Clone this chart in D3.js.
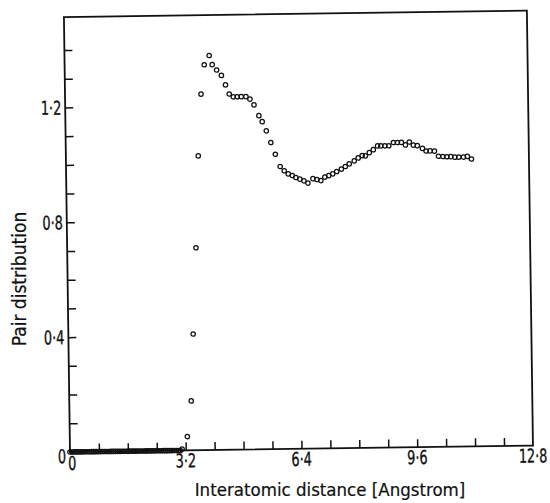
<!DOCTYPE html>
<html>
<head>
  <meta charset="utf-8">
  <script src="https://d3js.org/d3.v7.min.js"></script>
  <style>
    body { margin: 0; background: #fff; }
    text { font-family: "DejaVu Sans Condensed", "DejaVu Sans", sans-serif; fill: #111; }
  </style>
</head>
<body>
<script>
// interatomic distance (Angstrom) and pair distribution
var distance = [0, 0.06, 0.12, 0.18, 0.24, 0.30, 0.36, 0.42, 0.48, 0.54, 0.60, 0.66, 0.72, 0.78,
  0.84, 0.90, 0.96, 1.02, 1.08, 1.14, 1.20, 1.26, 1.32, 1.38, 1.44, 1.50, 1.56, 1.62,
  1.68, 1.74, 1.80, 1.86, 1.92, 1.98, 2.04, 2.10, 2.16, 2.22, 2.28, 2.34, 2.40, 2.46,
  2.52, 2.58, 2.64, 2.70, 2.76, 2.82, 2.88, 2.94, 3.00, 3.05,
  3.10, 3.25, 3.37, 3.45, 3.56, 3.66, 3.76, 3.86, 4.00, 4.08, 4.20, 4.33, 4.44, 4.54,
  4.65, 4.76, 4.87, 5.00, 5.11, 5.22, 5.35, 5.44, 5.55, 5.67, 5.79, 5.92, 6.03, 6.14,
  6.25, 6.35, 6.46, 6.57, 6.68, 6.82, 6.93, 7.04, 7.15, 7.26, 7.37, 7.48, 7.61, 7.72,
  7.83, 7.97, 8.08, 8.19, 8.28, 8.39, 8.50, 8.62, 8.71, 8.82, 8.93, 9.06, 9.17, 9.28,
  9.39, 9.50, 9.61, 9.72, 9.86, 9.96, 10.07, 10.19, 10.30, 10.42, 10.53, 10.64, 10.75,
  10.86, 10.99, 11.10, 11.21];
var pairDist = [0, 0, 0, 0, 0, 0, 0, 0, 0, 0, 0, 0, 0, 0,
  0, 0, 0, 0, 0, 0, 0, 0, 0, 0, 0, 0, 0, 0,
  0, 0, 0, 0, 0, 0, 0, 0, 0, 0, 0, 0, 0, 0,
  0, 0, 0, 0, 0, 0, 0, 0, 0, 0,
  0.005, 0.048, 0.172, 0.405, 0.705, 1.025, 1.240, 1.342, 1.374, 1.342, 1.323, 1.304, 1.271, 1.239,
  1.229, 1.229, 1.229, 1.229, 1.220, 1.200, 1.162, 1.141, 1.109, 1.068, 1.027, 0.984, 0.969, 0.958,
  0.952, 0.945, 0.939, 0.933, 0.925, 0.940, 0.937, 0.933, 0.945, 0.950, 0.956, 0.964, 0.972, 0.981,
  0.990, 1.000, 1.010, 1.018, 1.017, 1.028, 1.038, 1.051, 1.051, 1.051, 1.051, 1.062, 1.062, 1.062,
  1.053, 1.063, 1.052, 1.050, 1.040, 1.031, 1.031, 1.030, 1.012, 1.011, 1.010, 1.010, 1.008,
  1.008, 1.008, 1.010, 1.001];

var xMinorTicks = [0.8, 1.6, 2.4, 3.2, 4.0, 4.8, 5.6, 6.4, 7.2, 8.0, 8.8, 9.6, 10.4, 11.2, 12.0];
var xLabelTicks = [0, 3.2, 6.4, 9.6, 12.8];
var xLabels = ["0", "3·2", "6·4", "9·6", "12·8"];
var yMinorTicks = [0.1, 0.2, 0.3, 0.4, 0.5, 0.6, 0.7, 0.8, 0.9, 1.0, 1.1, 1.2, 1.3, 1.4];
var yLabelTicks = [0, 0.4, 0.8, 1.2];
var yLabels = ["0", "0·4", "0·8", "1·2"];

var W = 550, H = 503;
var ox = 70, oy = 452;       // bottom-left corner of frame
var pw = 463, ph = 435;      // frame size
var tilt = -0.8;             // the scanned page is slightly rotated
var squeeze = 0.75;          // tick label font is a narrow one

var svg = d3.select("body").append("svg")
  .attr("width", W).attr("height", H);
svg.append("rect").attr("width", W).attr("height", H).attr("fill", "#fff");

var g = svg.append("g")
  .attr("transform", "rotate(" + tilt + "," + ox + "," + oy + ") translate(" + ox + "," + (oy - ph) + ")");

var x = d3.scaleLinear().domain([0, 12.8]).range([0, pw]);
var y = d3.scaleLinear().domain([0, 1.515]).range([ph, 0]);

// minor ticks, pointing inward
var xAxis = g.append("g").attr("transform", "translate(0," + ph + ")")
  .call(d3.axisBottom(x).tickValues(xMinorTicks).tickSize(-8).tickFormat(""));
var yAxis = g.append("g")
  .call(d3.axisLeft(y).tickValues(yMinorTicks).tickSize(-8).tickFormat(""));
[xAxis, yAxis].forEach(function(a) {
  a.select(".domain").remove();
  a.selectAll("line").attr("stroke", "#111").attr("stroke-width", 1.5);
});

// frame
g.append("rect")
  .attr("x", 0).attr("y", 0).attr("width", pw).attr("height", ph)
  .attr("fill", "none").attr("stroke", "#111").attr("stroke-width", 1.8);

// tick labels
g.selectAll(".xl").data(xLabelTicks).enter().append("text")
  .attr("class", "xl")
  .attr("transform", function(d, i) {
    return "translate(" + (x(d) + (i === 0 ? 2 : 0)) + "," + (ph + (i === 0 ? 18 : 17)) + ") scale(" + squeeze + ",1)";
  })
  .attr("text-anchor", "middle")
  .attr("stroke", "#111").attr("stroke-width", 0.35)
  .style("font-size", "19px")
  .text(function(d, i) { return xLabels[i]; });

g.selectAll(".yl").data(yLabelTicks).enter().append("text")
  .attr("class", "yl")
  .attr("transform", function(d, i) {
    return "translate(-4," + (y(d) + (i === 0 ? 11 : 7)) + ") scale(" + squeeze + ",1)";
  })
  .attr("text-anchor", "end")
  .attr("stroke", "#111").attr("stroke-width", 0.35)
  .style("font-size", "19px")
  .text(function(d, i) { return yLabels[i]; });

// points
g.selectAll("circle").data(distance).enter().append("circle")
  .attr("cx", function(d) { return x(d); })
  .attr("cy", function(d, i) { return y(pairDist[i]); })
  .attr("r", 2.2)
  .attr("fill", "none")
  .attr("stroke", "#111")
  .attr("stroke-width", 1.25);

// axis titles
svg.append("text")
  .attr("x", 330).attr("y", 496)
  .attr("text-anchor", "middle")
  .attr("stroke", "#111").attr("stroke-width", 0.2)
  .style("font-size", "18.5px")
  .text("Interatomic distance [Angstrom]");

svg.append("text")
  .attr("transform", "translate(26,279) rotate(-90)")
  .attr("text-anchor", "middle")
  .attr("stroke", "#111").attr("stroke-width", 0.2)
  .style("font-size", "19px")
  .text("Pair distribution");
</script>
</body>
</html>
